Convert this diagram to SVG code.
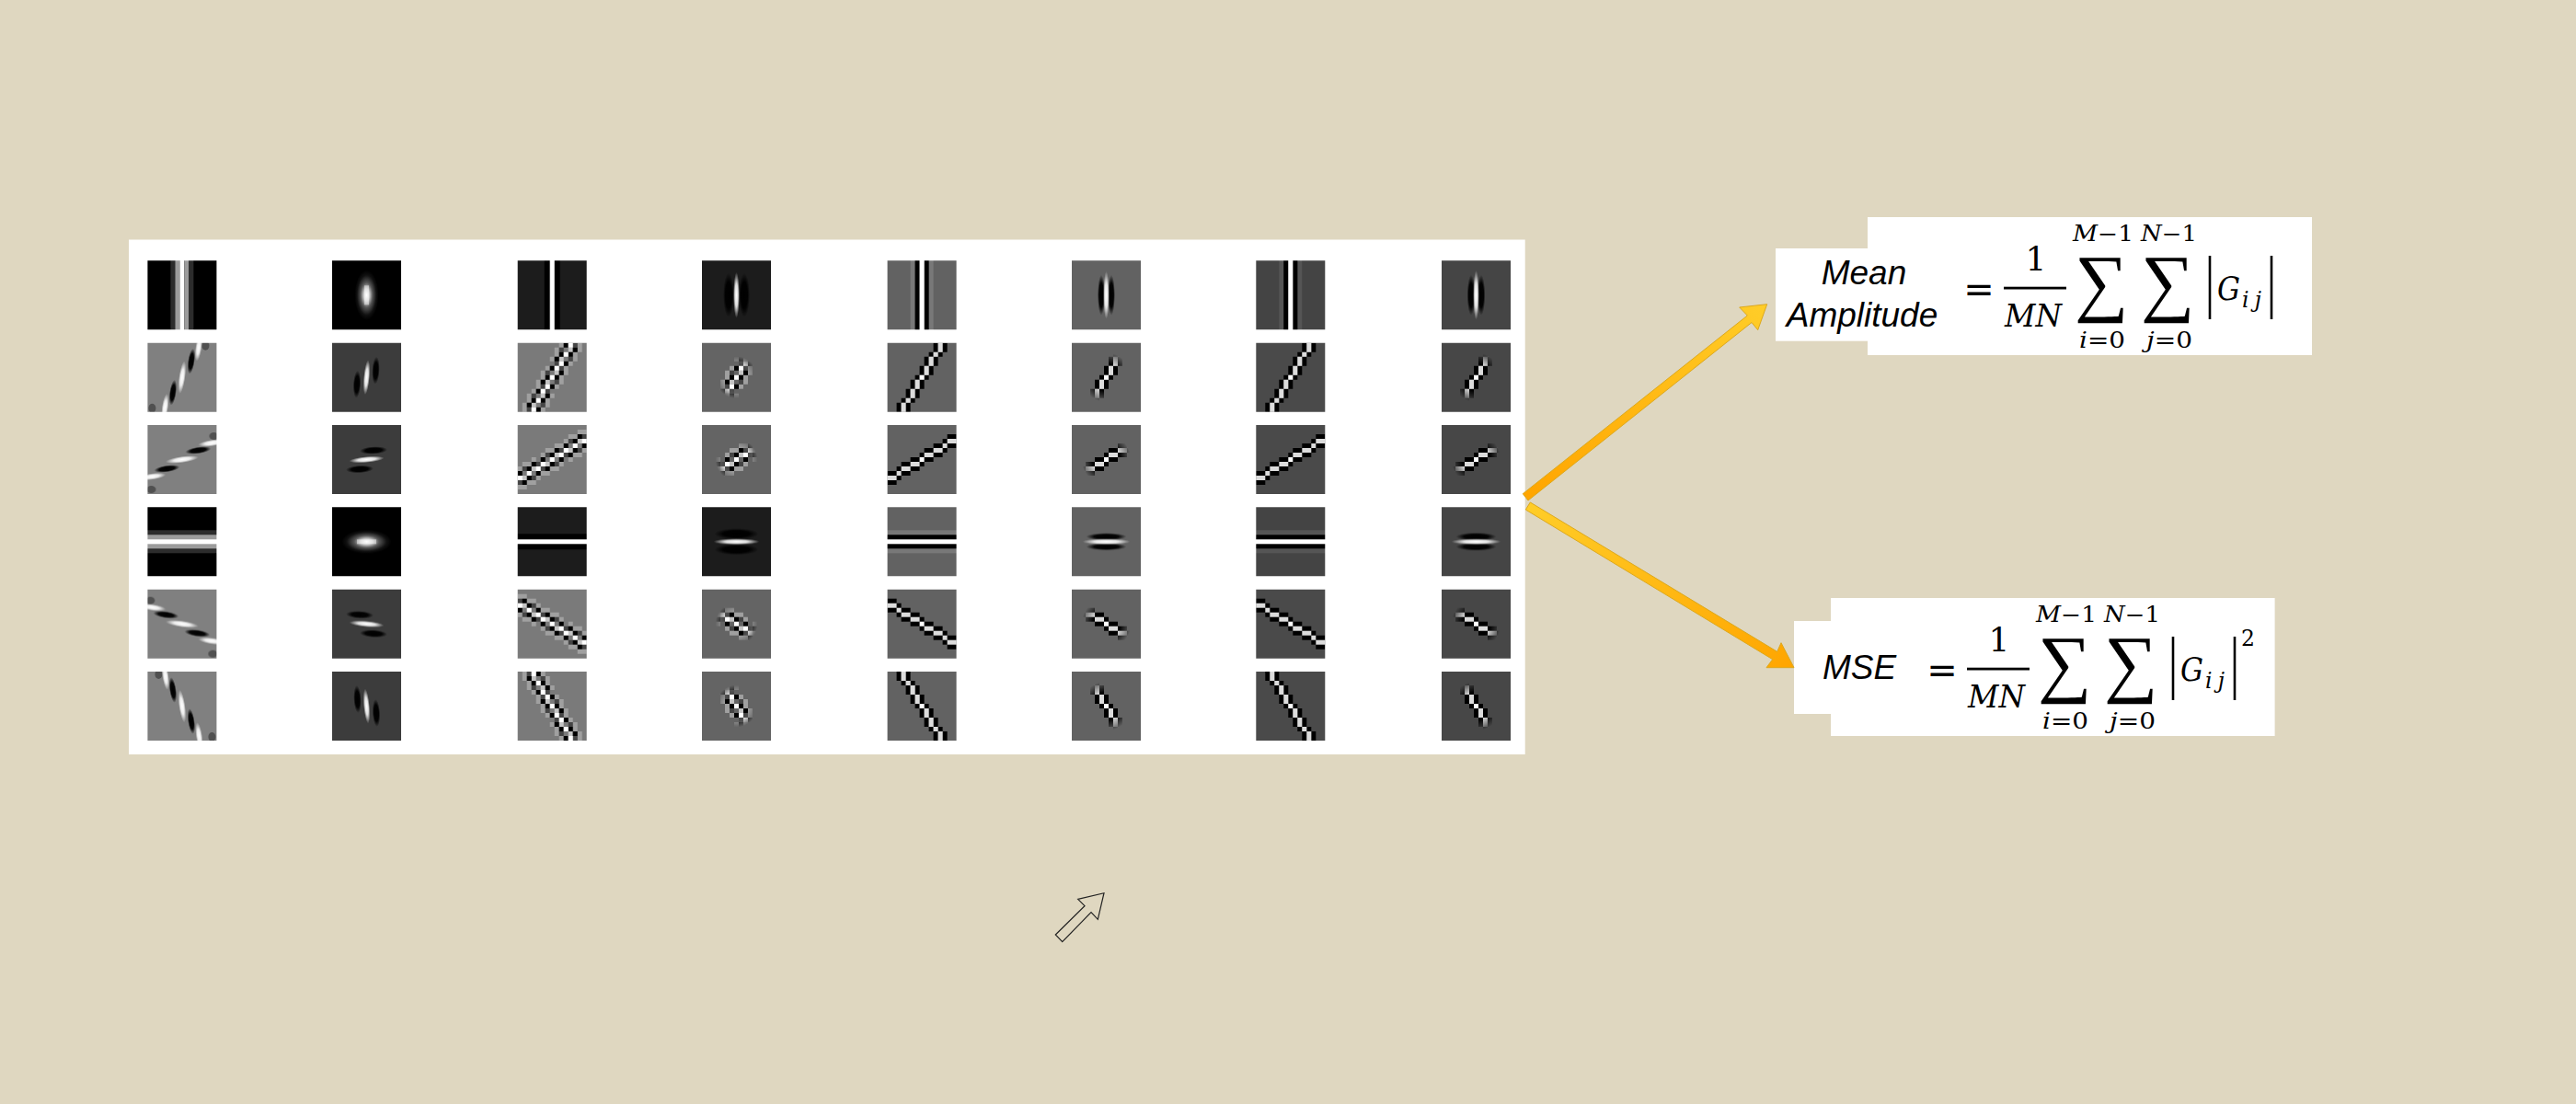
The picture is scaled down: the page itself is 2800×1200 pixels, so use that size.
<svg xmlns="http://www.w3.org/2000/svg" width="2800" height="1200" viewBox="0 0 2800 1200">
<style>
.sans{font-family:"Liberation Sans",Arial,sans-serif;font-style:italic;font-size:37px;fill:#000}
.ser{font-family:"DejaVu Serif","Liberation Serif",serif;fill:#000}
.sum{font-family:"Liberation Serif","Times New Roman",serif;fill:#000;font-size:82px}
.eq{font-family:"DejaVu Sans",sans-serif;font-size:40px;fill:#000}
.it{font-style:italic}
.big{font-size:34px}
.sm{font-size:23.5px}
.bar{stroke:#000;stroke-width:2.6;fill:none}
.tile{filter:url(#soft)}
.arr{stroke:#dca81e;stroke-width:1}
</style>
<defs>
<filter id="soft" x="-5%" y="-5%" width="110%" height="110%" color-interpolation-filters="sRGB"><feGaussianBlur stdDeviation="0.35"/></filter>
<filter id="b" color-interpolation-filters="sRGB"><feGaussianBlur stdDeviation="0.6"/></filter>
<clipPath id="box"><rect width="75" height="75"/></clipPath>
<radialGradient id="gw"><stop offset="0" stop-color="#fff"/><stop offset="0.5" stop-color="#fff" stop-opacity="0.85"/><stop offset="1" stop-color="#fff" stop-opacity="0"/></radialGradient>
<radialGradient id="gk"><stop offset="0" stop-color="#000"/><stop offset="0.6" stop-color="#000" stop-opacity="0.95"/><stop offset="1" stop-color="#000" stop-opacity="0"/></radialGradient>
<radialGradient id="gb"><stop offset="0" stop-color="#fff"/><stop offset="0.25" stop-color="#c8c8c8"/><stop offset="0.5" stop-color="#555"/><stop offset="0.8" stop-color="#111"/><stop offset="1" stop-color="#000"/></radialGradient>
<radialGradient id="fade"><stop offset="0" stop-color="#fff"/><stop offset="0.55" stop-color="#fff"/><stop offset="1" stop-color="#000"/></radialGradient>
<linearGradient id="up" gradientUnits="userSpaceOnUse" x1="1658" y1="540" x2="1920" y2="331"><stop offset="0" stop-color="#ffa500"/><stop offset="1" stop-color="#ffcd28"/></linearGradient>
<linearGradient id="down" gradientUnits="userSpaceOnUse" x1="1660" y1="550" x2="1950" y2="726"><stop offset="0" stop-color="#ffcd28"/><stop offset="1" stop-color="#ffa500"/></linearGradient>
<mask id="blob" maskUnits="userSpaceOnUse" x="0" y="0" width="75" height="75"><circle cx="37.5" cy="37.5" r="27" fill="url(#fade)"/></mask>
<mask id="blob2" maskUnits="userSpaceOnUse" x="0" y="0" width="75" height="75"><circle cx="37.5" cy="37.5" r="23" fill="url(#fade)"/></mask>

<g id="checkBand">
<path fill="#a0a0a0" d="M45 35h5v5h-5zM25 35h5v5h-5zM50 30h5v5h-5zM25 30h5v5h-5zM30 25h5v5h-5zM50 25h5v5h-5zM55 20h5v5h-5zM35 15h5v5h-5zM60 15h5v5h-5zM40 10h5v5h-5zM60 10h5v5h-5zM40 5h5v5h-5zM65 5h5v5h-5zM45 0h5v5h-5zM65 0h5v5h-5zM20 40h5v5h-5zM45 40h5v5h-5zM40 45h5v5h-5zM20 45h5v5h-5zM15 50h5v5h-5zM35 55h5v5h-5zM10 55h5v5h-5zM30 60h5v5h-5zM10 60h5v5h-5zM30 65h5v5h-5zM5 65h5v5h-5zM25 70h5v5h-5zM5 70h5v5h-5z"/>
<path fill="#c4c4c4" d="M40 30h5v5h-5zM45 15h5v5h-5zM55 5h5v5h-5zM30 40h5v5h-5zM25 55h5v5h-5zM15 65h5v5h-5z"/>
<path fill="#454545" d="M30 30h5v5h-5zM45 25h5v5h-5zM40 20h5v5h-5zM55 15h5v5h-5zM45 5h5v5h-5zM60 0h5v5h-5zM40 40h5v5h-5zM25 45h5v5h-5zM30 50h5v5h-5zM15 55h5v5h-5zM25 65h5v5h-5zM10 70h5v5h-5z"/>
<path fill="#000" d="M40 35h5v5h-5zM30 35h5v5h-5zM45 30h5v5h-5zM35 25h5v5h-5zM50 20h5v5h-5zM40 15h5v5h-5zM45 10h5v5h-5zM55 10h5v5h-5zM60 5h5v5h-5zM50 0h5v5h-5zM25 40h5v5h-5zM35 45h5v5h-5zM20 50h5v5h-5zM30 55h5v5h-5zM25 60h5v5h-5zM15 60h5v5h-5zM10 65h5v5h-5zM20 70h5v5h-5z"/>
<path fill="#fff" d="M35 35h5v5h-5zM40 25h5v5h-5zM45 20h5v5h-5zM50 10h5v5h-5zM55 0h5v5h-5zM30 45h5v5h-5zM25 50h5v5h-5zM20 60h5v5h-5zM15 70h5v5h-5z"/>
</g>
<g id="lineBand">
<path fill="#000" d="M50 0h5v5h-5zM60 0h5v5h-5zM50 5h5v5h-5zM60 5h5v5h-5zM45 10h5v5h-5zM55 10h5v5h-5zM40 15h5v5h-5zM50 15h5v5h-5zM40 20h5v5h-5zM50 20h5v5h-5zM35 25h5v5h-5zM45 25h5v5h-5zM35 30h5v5h-5zM45 30h5v5h-5zM30 35h5v5h-5zM40 35h5v5h-5zM25 40h5v5h-5zM35 40h5v5h-5zM25 45h5v5h-5zM35 45h5v5h-5zM20 50h5v5h-5zM30 50h5v5h-5zM20 55h5v5h-5zM30 55h5v5h-5zM15 60h5v5h-5zM25 60h5v5h-5zM10 65h5v5h-5zM20 65h5v5h-5zM10 70h5v5h-5zM20 70h5v5h-5z"/>
<path fill="#dcdcdc" d="M55 0h5v5h-5zM55 5h5v5h-5zM50 10h5v5h-5zM45 15h5v5h-5zM45 20h5v5h-5zM40 25h5v5h-5zM40 30h5v5h-5zM30 40h5v5h-5zM30 45h5v5h-5zM25 50h5v5h-5zM25 55h5v5h-5zM20 60h5v5h-5zM15 65h5v5h-5zM15 70h5v5h-5z"/>
<path fill="#fff" d="M35 35h5v5h-5z"/>
</g>

<g id="a0" clip-path="url(#box)"><g filter="url(#b)"><rect x="-10" y="-10" width="95" height="95" fill="#000"/><rect x="25" y="-10" width="5" height="95" fill="#2c2c2c"/><rect x="30" y="-10" width="5" height="95" fill="#9c9c9c"/><rect x="35" y="-10" width="5" height="95" fill="#fff"/><rect x="40" y="-10" width="5" height="95" fill="#9c9c9c"/><rect x="45" y="-10" width="5" height="95" fill="#2c2c2c"/></g></g>
<g id="b0" clip-path="url(#box)"><g filter="url(#b)"><rect x="-10" y="-10" width="95" height="95" fill="#808080"/><ellipse cx="63" cy="3" rx="4" ry="5" fill="#505050"/><ellipse cx="5" cy="71" rx="4" ry="5" fill="#505050"/><ellipse cx="55.5" cy="5" rx="3.6" ry="15" fill="url(#gw)" transform="rotate(8 55 5)"/><ellipse cx="47.5" cy="20" rx="3.8" ry="14" fill="url(#gk)" transform="rotate(8 47.5 20)"/><ellipse cx="37.5" cy="37.5" rx="3.6" ry="18" fill="url(#gw)" transform="rotate(8 37.5 37.5)"/><ellipse cx="27.5" cy="54" rx="3.8" ry="14" fill="url(#gk)" transform="rotate(8 27.5 54)"/><ellipse cx="19" cy="70" rx="3.6" ry="15" fill="url(#gw)" transform="rotate(8 19 70)"/></g></g>

<g id="a1" clip-path="url(#box)"><g filter="url(#b)"><rect x="-10" y="-10" width="95" height="95" fill="#000"/><ellipse cx="37.5" cy="37.5" rx="13" ry="27" fill="url(#gb)"/><rect x="35" y="27" width="5" height="21" fill="#fff" opacity="0.45"/></g></g>
<g id="b1" clip-path="url(#box)"><g filter="url(#b)"><rect x="-10" y="-10" width="95" height="95" fill="#3c3c3c"/><ellipse cx="27" cy="45" rx="4.2" ry="15" fill="url(#gk)" transform="rotate(3 27 45)"/><ellipse cx="47.5" cy="30" rx="4.2" ry="15" fill="url(#gk)" transform="rotate(3 47.5 30)"/><ellipse cx="37.5" cy="37.5" rx="3.4" ry="19" fill="url(#gw)" transform="rotate(5 37.5 37.5)"/></g></g>

<g id="a2" clip-path="url(#box)"><g filter="url(#b)"><rect x="-10" y="-10" width="95" height="95" fill="#1c1c1c"/><rect x="29" y="-10" width="6" height="95" fill="#000"/><rect x="40" y="-10" width="6" height="95" fill="#000"/><rect x="35" y="-10" width="5" height="95" fill="#fff"/></g></g>
<g id="b2" clip-path="url(#box)"><g filter="url(#b)"><rect x="-10" y="-10" width="95" height="95" fill="#7a7a7a"/><use href="#checkBand"/></g></g>

<g id="a3" clip-path="url(#box)"><g filter="url(#b)"><rect x="-10" y="-10" width="95" height="95" fill="#1c1c1c"/><ellipse cx="29" cy="37.5" rx="6" ry="24" fill="url(#gk)"/><ellipse cx="46" cy="37.5" rx="6" ry="24" fill="url(#gk)"/><ellipse cx="37.5" cy="37.5" rx="3.4" ry="25" fill="url(#gw)"/></g></g>
<g id="b3" clip-path="url(#box)"><g filter="url(#b)"><rect x="-10" y="-10" width="95" height="95" fill="#646464"/><g mask="url(#blob2)"><use href="#checkBand"/></g></g></g>

<g id="a4" clip-path="url(#box)"><g filter="url(#b)"><rect x="-10" y="-10" width="95" height="95" fill="#626262"/><rect x="25" y="-10" width="5" height="95" fill="#787878"/><rect x="45" y="-10" width="5" height="95" fill="#787878"/><rect x="30" y="-10" width="5" height="95" fill="#000"/><rect x="40" y="-10" width="5" height="95" fill="#000"/><rect x="35" y="-10" width="5" height="95" fill="#fff"/></g></g>
<g id="b4" clip-path="url(#box)"><g filter="url(#b)"><rect x="-10" y="-10" width="95" height="95" fill="#626262"/><use href="#lineBand"/></g></g>

<g id="a5" clip-path="url(#box)"><g filter="url(#b)"><rect x="-10" y="-10" width="95" height="95" fill="#626262"/><ellipse cx="32" cy="37.5" rx="4" ry="22" fill="url(#gk)"/><ellipse cx="43" cy="37.5" rx="4" ry="22" fill="url(#gk)"/><ellipse cx="37.5" cy="37.5" rx="3.4" ry="26" fill="url(#gw)"/></g></g>
<g id="b5" clip-path="url(#box)"><g filter="url(#b)"><rect x="-10" y="-10" width="95" height="95" fill="#626262"/><g mask="url(#blob)"><use href="#lineBand"/></g></g></g>

<g id="a6" clip-path="url(#box)"><g filter="url(#b)"><rect x="-10" y="-10" width="95" height="95" fill="#444"/><rect x="25" y="-10" width="5" height="95" fill="#555"/><rect x="45" y="-10" width="5" height="95" fill="#555"/><rect x="30" y="-10" width="5" height="95" fill="#000"/><rect x="40" y="-10" width="5" height="95" fill="#000"/><rect x="35" y="-10" width="5" height="95" fill="#fff"/></g></g>
<g id="b6" clip-path="url(#box)"><g filter="url(#b)"><rect x="-10" y="-10" width="95" height="95" fill="#4a4a4a"/><use href="#lineBand"/></g></g>

<g id="a7" clip-path="url(#box)"><g filter="url(#b)"><rect x="-10" y="-10" width="95" height="95" fill="#454545"/><ellipse cx="32" cy="37.5" rx="4.4" ry="22" fill="url(#gk)"/><ellipse cx="43" cy="37.5" rx="4.4" ry="22" fill="url(#gk)"/><ellipse cx="37.5" cy="37.5" rx="3.4" ry="27" fill="url(#gw)"/></g></g>
<g id="b7" clip-path="url(#box)"><g filter="url(#b)"><rect x="-10" y="-10" width="95" height="95" fill="#474747"/><g mask="url(#blob)"><use href="#lineBand"/></g></g></g>

<g id="formulaBody">
<text class="eq" x="2151" y="328" text-anchor="middle">=</text>
<text class="ser" x="2213" y="294" font-size="36" text-anchor="middle">1</text>
<rect x="2178" y="311.7" width="68" height="2.8" fill="#000"/>
<text class="ser it big" x="2179" y="355" textLength="62" lengthAdjust="spacingAndGlyphs">MN</text>
<text class="sum" x="2284" y="334" text-anchor="middle">∑</text>
<text class="sum" x="2356" y="334" text-anchor="middle">∑</text>
<text class="ser sm" x="2253" y="262" textLength="66" lengthAdjust="spacingAndGlyphs"><tspan class="it">M</tspan>−1</text>
<text class="ser sm" x="2327" y="262" textLength="61" lengthAdjust="spacingAndGlyphs"><tspan class="it">N</tspan>−1</text>
<text class="ser sm" x="2260" y="378" textLength="50" lengthAdjust="spacingAndGlyphs"><tspan class="it">i</tspan>=0</text>
<text class="ser sm" x="2333" y="378" textLength="50" lengthAdjust="spacingAndGlyphs"><tspan class="it">j</tspan>=0</text>
<line class="bar" x1="2402" y1="278" x2="2402" y2="347"/>
<line class="bar" x1="2469" y1="278" x2="2469" y2="347"/>
<text class="ser it" font-size="36" x="2410" y="326" textLength="25" lengthAdjust="spacingAndGlyphs">G</text>
<text class="ser it sm" x="2437" y="334" textLength="21">ij</text>
</g>
</defs>

<rect width="2800" height="1200" fill="#dfd7c0"/>

<g id="filter-panel">
<rect x="140" y="260.5" width="1517.7" height="559.5" fill="#fff"/>
<g id="tile-r0-c0" class="tile" transform="translate(160.4 283.3)"><use href="#a0"/></g>
<g id="tile-r0-c1" class="tile" transform="translate(361 283.3)"><use href="#a1"/></g>
<g id="tile-r0-c2" class="tile" transform="translate(562.7 283.3)"><use href="#a2"/></g>
<g id="tile-r0-c3" class="tile" transform="translate(763 283.3)"><use href="#a3"/></g>
<g id="tile-r0-c4" class="tile" transform="translate(964.6 283.3)"><use href="#a4"/></g>
<g id="tile-r0-c5" class="tile" transform="translate(1165 283.3)"><use href="#a5"/></g>
<g id="tile-r0-c6" class="tile" transform="translate(1365.3 283.3)"><use href="#a6"/></g>
<g id="tile-r0-c7" class="tile" transform="translate(1567 283.3)"><use href="#a7"/></g>

<g id="tile-r1-c0" class="tile" transform="translate(160.4 372.7)"><use href="#b0"/></g>
<g id="tile-r1-c1" class="tile" transform="translate(361 372.7)"><use href="#b1"/></g>
<g id="tile-r1-c2" class="tile" transform="translate(562.7 372.7)"><use href="#b2"/></g>
<g id="tile-r1-c3" class="tile" transform="translate(763 372.7)"><use href="#b3"/></g>
<g id="tile-r1-c4" class="tile" transform="translate(964.6 372.7)"><use href="#b4"/></g>
<g id="tile-r1-c5" class="tile" transform="translate(1165 372.7)"><use href="#b5"/></g>
<g id="tile-r1-c6" class="tile" transform="translate(1365.3 372.7)"><use href="#b6"/></g>
<g id="tile-r1-c7" class="tile" transform="translate(1567 372.7)"><use href="#b7"/></g>

<g id="tile-r2-c0" class="tile" transform="translate(160.4 462)"><use href="#b0" transform="matrix(0 -1 -1 0 75 75)"/></g>
<g id="tile-r2-c1" class="tile" transform="translate(361 462)"><use href="#b1" transform="matrix(0 -1 -1 0 75 75)"/></g>
<g id="tile-r2-c2" class="tile" transform="translate(562.7 462)"><use href="#b2" transform="matrix(0 -1 -1 0 75 75)"/></g>
<g id="tile-r2-c3" class="tile" transform="translate(763 462)"><use href="#b3" transform="matrix(0 -1 -1 0 75 75)"/></g>
<g id="tile-r2-c4" class="tile" transform="translate(964.6 462)"><use href="#b4" transform="matrix(0 -1 -1 0 75 75)"/></g>
<g id="tile-r2-c5" class="tile" transform="translate(1165 462)"><use href="#b5" transform="matrix(0 -1 -1 0 75 75)"/></g>
<g id="tile-r2-c6" class="tile" transform="translate(1365.3 462)"><use href="#b6" transform="matrix(0 -1 -1 0 75 75)"/></g>
<g id="tile-r2-c7" class="tile" transform="translate(1567 462)"><use href="#b7" transform="matrix(0 -1 -1 0 75 75)"/></g>

<g id="tile-r3-c0" class="tile" transform="translate(160.4 551.3)"><use href="#a0" transform="matrix(0 1 1 0 0 0)"/></g>
<g id="tile-r3-c1" class="tile" transform="translate(361 551.3)"><use href="#a1" transform="matrix(0 1 1 0 0 0)"/></g>
<g id="tile-r3-c2" class="tile" transform="translate(562.7 551.3)"><use href="#a2" transform="matrix(0 1 1 0 0 0)"/></g>
<g id="tile-r3-c3" class="tile" transform="translate(763 551.3)"><use href="#a3" transform="matrix(0 1 1 0 0 0)"/></g>
<g id="tile-r3-c4" class="tile" transform="translate(964.6 551.3)"><use href="#a4" transform="matrix(0 1 1 0 0 0)"/></g>
<g id="tile-r3-c5" class="tile" transform="translate(1165 551.3)"><use href="#a5" transform="matrix(0 1 1 0 0 0)"/></g>
<g id="tile-r3-c6" class="tile" transform="translate(1365.3 551.3)"><use href="#a6" transform="matrix(0 1 1 0 0 0)"/></g>
<g id="tile-r3-c7" class="tile" transform="translate(1567 551.3)"><use href="#a7" transform="matrix(0 1 1 0 0 0)"/></g>

<g id="tile-r4-c0" class="tile" transform="translate(160.4 640.7)"><use href="#b0" transform="matrix(0 -1 1 0 0 75)"/></g>
<g id="tile-r4-c1" class="tile" transform="translate(361 640.7)"><use href="#b1" transform="matrix(0 -1 1 0 0 75)"/></g>
<g id="tile-r4-c2" class="tile" transform="translate(562.7 640.7)"><use href="#b2" transform="matrix(0 -1 1 0 0 75)"/></g>
<g id="tile-r4-c3" class="tile" transform="translate(763 640.7)"><use href="#b3" transform="matrix(0 -1 1 0 0 75)"/></g>
<g id="tile-r4-c4" class="tile" transform="translate(964.6 640.7)"><use href="#b4" transform="matrix(0 -1 1 0 0 75)"/></g>
<g id="tile-r4-c5" class="tile" transform="translate(1165 640.7)"><use href="#b5" transform="matrix(0 -1 1 0 0 75)"/></g>
<g id="tile-r4-c6" class="tile" transform="translate(1365.3 640.7)"><use href="#b6" transform="matrix(0 -1 1 0 0 75)"/></g>
<g id="tile-r4-c7" class="tile" transform="translate(1567 640.7)"><use href="#b7" transform="matrix(0 -1 1 0 0 75)"/></g>

<g id="tile-r5-c0" class="tile" transform="translate(160.4 730)"><use href="#b0" transform="matrix(-1 0 0 1 75 0)"/></g>
<g id="tile-r5-c1" class="tile" transform="translate(361 730)"><use href="#b1" transform="matrix(-1 0 0 1 75 0)"/></g>
<g id="tile-r5-c2" class="tile" transform="translate(562.7 730)"><use href="#b2" transform="matrix(-1 0 0 1 75 0)"/></g>
<g id="tile-r5-c3" class="tile" transform="translate(763 730)"><use href="#b3" transform="matrix(-1 0 0 1 75 0)"/></g>
<g id="tile-r5-c4" class="tile" transform="translate(964.6 730)"><use href="#b4" transform="matrix(-1 0 0 1 75 0)"/></g>
<g id="tile-r5-c5" class="tile" transform="translate(1165 730)"><use href="#b5" transform="matrix(-1 0 0 1 75 0)"/></g>
<g id="tile-r5-c6" class="tile" transform="translate(1365.3 730)"><use href="#b6" transform="matrix(-1 0 0 1 75 0)"/></g>
<g id="tile-r5-c7" class="tile" transform="translate(1567 730)"><use href="#b7" transform="matrix(-1 0 0 1 75 0)"/></g>
</g>

<g id="formula-mean">
<rect x="2030" y="236" width="483" height="150" fill="#fff"/>
<rect x="1930" y="270" width="100" height="100.7" fill="#fff"/>
<text class="sans" x="2026" y="309" text-anchor="middle">Mean</text>
<text class="sans" x="2024" y="355" text-anchor="middle">Amplitude</text>
<use href="#formulaBody"/>
</g>

<g id="formula-mse">
<rect x="1990" y="650" width="482.6" height="150" fill="#fff"/>
<rect x="1950" y="675" width="40" height="101" fill="#fff"/>
<text class="sans" x="1981" y="738">MSE</text>
<use href="#formulaBody" transform="translate(-40 414)"/>
<text class="ser sm" x="2436" y="702">2</text>
</g>

<g id="connectors">
<path class="arr" fill="url(#up)" d="M1655.3 536.7L1899.3 343L1890.7 334L1920.7 330.7L1910.7 358.7L1904 350.5L1661 544Z"/>
<path class="arr" fill="url(#down)" d="M1663.3 546L1931.7 708.3L1936 698.7L1950 725.7L1920 725.7L1926.7 716.7L1658.3 554Z"/>
</g>

<g id="outline-arrow">
<path d="M1147.3 1016L1179 984.7L1171.7 977.3L1200 970.7L1193.3 999.3L1186 991.7L1154.7 1023.7Z" fill="none" stroke="#222" stroke-width="1.2"/>
</g>
</svg>
